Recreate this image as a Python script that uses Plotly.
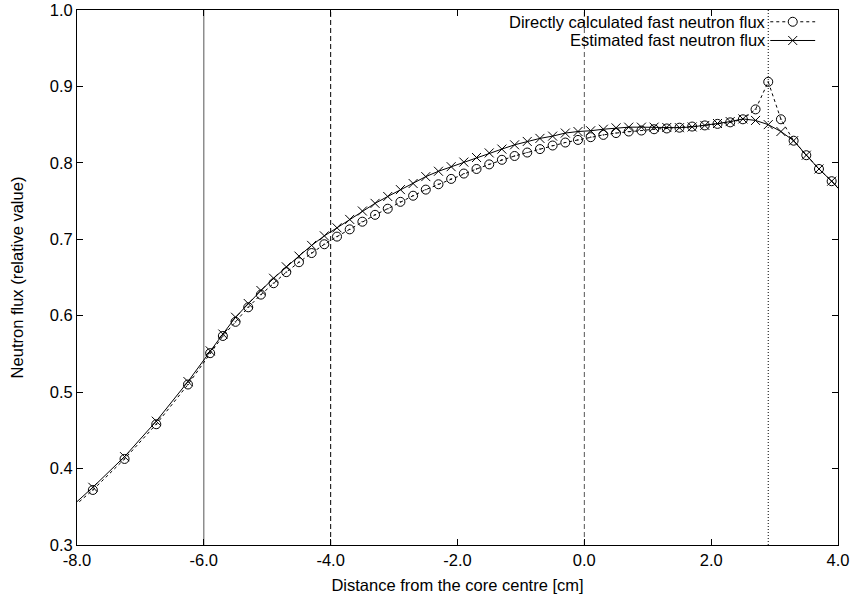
import plotly.graph_objects as go

# ---- data ----
x_pos = [-8.25, -7.75, -7.25, -6.75, -6.25,
         -5.9, -5.7, -5.5, -5.3, -5.1, -4.9, -4.7, -4.5, -4.3, -4.1,
         -3.9, -3.7, -3.5, -3.3, -3.1, -2.9, -2.7, -2.5, -2.3, -2.1,
         -1.9, -1.7, -1.5, -1.3, -1.1, -0.9, -0.7, -0.5, -0.3, -0.1,
         0.1, 0.3, 0.5, 0.7, 0.9, 1.1, 1.3, 1.5, 1.7, 1.9,
         2.1, 2.3, 2.5, 2.7, 2.9, 3.1, 3.3, 3.5, 3.7, 3.9, 4.1]

direct_flux = [0.336, 0.372, 0.4126, 0.458, 0.510,
               0.551, 0.5735, 0.592, 0.611, 0.6276, 0.6425, 0.657, 0.670, 0.682, 0.6935,
               0.7035, 0.713, 0.723, 0.732, 0.740, 0.749, 0.757, 0.765, 0.772, 0.779,
               0.786, 0.792, 0.798, 0.804, 0.809, 0.8135, 0.818, 0.8227, 0.8266, 0.830,
               0.8336, 0.8366, 0.839, 0.841, 0.8423, 0.844, 0.845, 0.846, 0.8475, 0.849,
               0.851, 0.853, 0.857, 0.870, 0.906, 0.857, 0.829, 0.810, 0.792, 0.776, 0.758]

estimated_flux = [0.338, 0.3755, 0.4156, 0.462, 0.5138,
                  0.554, 0.576, 0.598, 0.616, 0.633, 0.649, 0.664, 0.678, 0.692, 0.7045,
                  0.715, 0.726, 0.737, 0.747, 0.756, 0.765, 0.773, 0.782, 0.789, 0.795,
                  0.801, 0.807, 0.813, 0.818, 0.8236, 0.828, 0.832, 0.835, 0.839, 0.841,
                  0.842, 0.844, 0.8458, 0.8467, 0.8467, 0.8467, 0.8463, 0.846, 0.847, 0.849,
                  0.8515, 0.854, 0.8575, 0.8555, 0.850, 0.841, 0.829, 0.810, 0.792, 0.776, 0.758]

boundary_x = [-6.0, -4.0, 0.0, 2.9]
boundary_dash = ["solid", "5px,3px", "5px,3px", "1px,2px"]
boundary_color = ["#555555", "black", "#555555", "black"]

x_ticks = [-8, -6, -4, -2, 0, 2, 4]
x_tick_labels = ["-8.0", "-6.0", "-4.0", "-2.0", "0.0", "2.0", "4.0"]
y_ticks = [0.3, 0.4, 0.5, 0.6, 0.7, 0.8, 0.9, 1.0]
y_tick_labels = ["0.3", "0.4", "0.5", "0.6", "0.7", "0.8", "0.9", "1.0"]

series_names = ["Directly calculated fast neutron flux", "Estimated fast neutron flux"]

FONT = "Liberation Sans, Arial, Helvetica, sans-serif"
FS = 16.5

fig = go.Figure()

fig.add_trace(go.Scatter(
    x=x_pos, y=direct_flux, mode="lines+markers", name=series_names[0],
    line=dict(color="black", width=1, dash="3px,3px"),
    marker=dict(symbol="circle-dot", size=9, color="rgba(0,0,0,0)",
                line=dict(color="black", width=1)),
    showlegend=False,
))
fig.add_trace(go.Scatter(
    x=x_pos, y=estimated_flux, mode="lines+markers", name=series_names[1],
    line=dict(color="black", width=1),
    marker=dict(symbol="x-thin-open", size=9, color="black",
                line=dict(color="black", width=1)),
    showlegend=False,
))

shapes = []
for bx, bd, bc in zip(boundary_x, boundary_dash, boundary_color):
    shapes.append(dict(type="line", xref="x", yref="paper", x0=bx, x1=bx, y0=0, y1=1,
                       line=dict(color=bc, width=1, dash=bd), layer="below"))

# custom legend (text on the left, sample on the right, like the original)
leg_rows = [0.978, 0.943]
sx0, sx1 = 0.911, 0.970
smid = (sx0 + sx1) / 2
annotations = []
for i, (name, yy) in enumerate(zip(series_names, leg_rows)):
    annotations.append(dict(text=name, xref="paper", yref="paper", x=0.908, y=yy,
                            xanchor="right", yanchor="middle", showarrow=False,
                            font=dict(family=FONT, size=FS, color="black")))
    shapes.append(dict(type="line", xref="paper", yref="paper", x0=sx0, x1=sx1, y0=yy, y1=yy,
                       line=dict(color="black", width=1, dash="3px,3px" if i == 0 else "solid")))

r = 4.5
yy = leg_rows[0]
shapes.append(dict(type="circle", xref="paper", yref="paper", xsizemode="pixel", ysizemode="pixel",
                   xanchor=smid, yanchor=yy, x0=-r, x1=r, y0=-r, y1=r,
                   line=dict(color="black", width=1), fillcolor="white"))
yy = leg_rows[1]
for sgn in (1, -1):
    shapes.append(dict(type="line", xref="paper", yref="paper", xsizemode="pixel", ysizemode="pixel",
                       xanchor=smid, yanchor=yy, x0=-r, x1=r, y0=-r * sgn, y1=r * sgn,
                       line=dict(color="black", width=1)))

axis_common = dict(showline=True, linecolor="black", linewidth=1, mirror="allticks",
                   ticks="inside", ticklen=6, tickcolor="black", tickwidth=1,
                   showgrid=False, zeroline=False, automargin=False,
                   tickfont=dict(family=FONT, size=FS, color="black"))

fig.update_layout(
    width=851, height=604,
    margin=dict(l=77, r=13, t=10, b=59, autoexpand=False),
    paper_bgcolor="white", plot_bgcolor="white",
    font=dict(family=FONT, size=FS, color="black"),
    xaxis=dict(range=[-8, 4], tickmode="array", tickvals=x_ticks, ticktext=x_tick_labels,
               title=dict(text="Distance from the core centre [cm]", standoff=11,
                          font=dict(family=FONT, size=FS)),
               **axis_common),
    yaxis=dict(range=[0.3, 1.0], tickmode="array", tickvals=y_ticks, ticktext=y_tick_labels,
               title=dict(text="Neutron flux (relative value)", standoff=21,
                          font=dict(family=FONT, size=FS)),
               **axis_common),
    shapes=shapes,
    annotations=annotations,
)

fig.write_html("out.html", config={"displayModeBar": False},
               post_script="document.body.style.margin='0';document.body.style.padding='0';")
